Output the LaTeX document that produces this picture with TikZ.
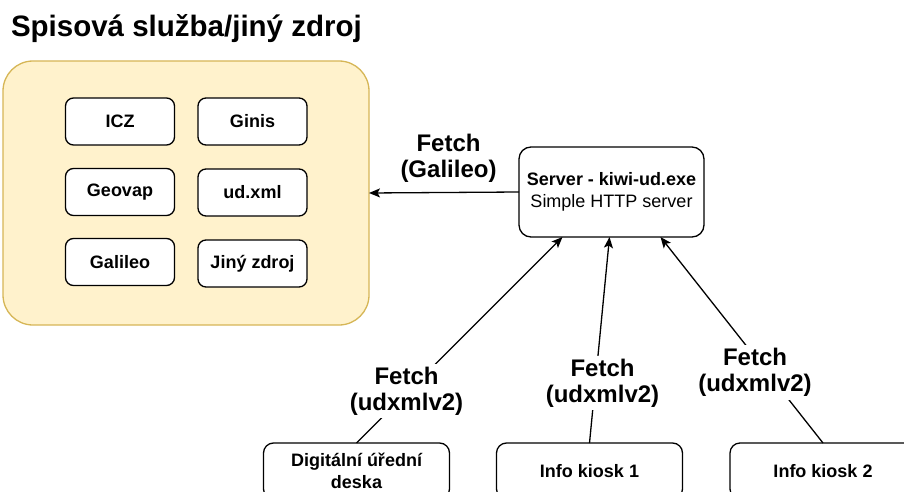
\documentclass[tikz,border=0pt]{standalone}
\usepackage{fontspec}
\setmainfont{Liberation Sans}
\usetikzlibrary{arrows.meta,calc}
\definecolor{srcfill}{HTML}{FFF2CC}
\definecolor{srcdraw}{HTML}{D6B656}
\begin{document}
\begin{tikzpicture}[x=1pt,y=-1pt,
  every node/.style={inner sep=0pt, outer sep=0pt},
  inbox/.style={draw=black, line width=1.3pt, rounded corners=8pt, fill=white,
    minimum width=109pt, minimum height=47pt, font=\fontsize{18}{21}\selectfont\bfseries},
  botbox/.style={draw=black, line width=1.3pt, rounded corners=10pt, fill=white,
    minimum width=186pt, minimum height=56pt, align=center,
    font=\fontsize{18}{21.5}\selectfont\bfseries},
  lbl/.style={fill=white, inner sep=3pt, align=center,
    font=\fontsize{24}{26}\selectfont\bfseries},
  arr/.style={draw=black, line width=1.3pt, -{Stealth[length=11pt,width=9pt,inset=2.5pt]}}]
\useasboundingbox (0,0) rectangle (904,492);
\clip (0,0) rectangle (904,492);
% title
\node[anchor=base west, font=\fontsize{29.5}{33}\selectfont\bfseries] (title) at (11,37) {Spisová služba/jiný zdroj};
% source container
\node[draw=srcdraw, fill=srcfill, line width=1.3pt, rounded corners=30pt,
  minimum width=366pt, minimum height=264pt] (src) at (186,193) {};
\node[inbox] (icz) at (120,121.5) {ICZ};
\node[inbox] (ginis) at (252.5,121.5) {Ginis};
\node[inbox] (geovap) at (120,192) {Geovap};
\node[inbox] (udxml) at (252.5,192.5) {ud.xml};
\node[inbox] (galileo) at (120,262) {Galileo};
\node[inbox] (jiny) at (252.5,263.5) {Jiný zdroj};
% server
\node[draw=black, line width=1.3pt, rounded corners=12pt, fill=white,
  minimum width=185pt, minimum height=90pt, align=center,
  font=\fontsize{18}{22}\selectfont] (srv) at (611.5,192)
  {\textbf{Server - kiwi-ud.exe}\\Simple HTTP server};
% bottom clients
\node[botbox] (dud) at (356.5,471) {Digitální úřední\\deska};
\node[botbox] (k1) at (589.5,471) {Info kiosk 1};
\node[botbox] (k2) at (823,471) {Info kiosk 2};
% connectors
\coordinate (t1) at ($(srv.south)+(-49,0)$);
\coordinate (t2) at ($(srv.south)+(-2,0)$);
\coordinate (t3) at ($(srv.south)+(49,0)$);
\draw[arr] (srv.west) -- (src.east);
\draw[arr] (dud.north) -- (t1);
\draw[arr] (k1.north) -- (t2);
\draw[arr] (k2.north) -- (t3);
% labels
\node[lbl, fill=none] (lg) at (448.5,158) {Fetch\\(Galileo)};
\node[lbl] (l1) at (406.5,391) {Fetch\\(udxmlv2)};
\node[lbl] (l2) at (602.5,383) {Fetch\\(udxmlv2)};
\node[lbl] (l3) at (755,372.5) {Fetch\\(udxmlv2)};
\end{tikzpicture}
\end{document}
